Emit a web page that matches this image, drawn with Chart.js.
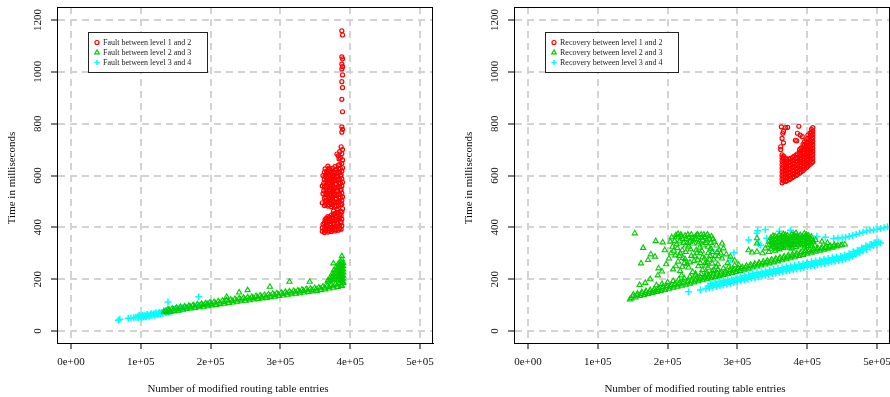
<!DOCTYPE html>
<html>
<head>
<meta charset="utf-8">
<script src="https://cdn.jsdelivr.net/npm/chart.js@4.4.0/dist/chart.umd.min.js"></script>
<style>
  html, body { margin: 0; padding: 0; background: #fff; }
  #wrap { position: relative; width: 890px; height: 397px; overflow: hidden; }
  .panel { position: absolute; top: 0; width: 457px; height: 397px; }
</style>
</head>
<body>
<div id="wrap">
  <div class="panel" style="left:0"><canvas id="fault" width="457" height="397"></canvas></div>
  <div class="panel" style="left:457px"><canvas id="recovery" width="457" height="397"></canvas></div>
</div>
<script>
// x values are in thousands of modified entries, y in milliseconds
const xTickValues = [0, 100, 200, 300, 400, 500];
const xTickLabels = ['0e+00', '1e+05', '2e+05', '3e+05', '4e+05', '5e+05'];
const yTickValues = [0, 200, 400, 600, 800, 1000, 1200];
const yTickLabels = ['0', '200', '400', '600', '800', '1000', '1200'];
const xTitle = 'Number of modified routing table entries';
const yTitle = 'Time in milliseconds';
const faultLabels = ['Fault between level 1 and 2', 'Fault between level 2 and 3', 'Fault between level 3 and 4'];
const recoveryLabels = ['Recovery between level 1 and 2', 'Recovery between level 2 and 3', 'Recovery between level 3 and 4'];

// ---- left panel: faults ----
const faultL12 = [
  [363,380],[363,392],[364,405],[363,418],[364,430],
  [368,382],[368,394],[367,407],[368,420],[369,433],[368,442],
  [373,384],[373,396],[372,409],[373,422],[374,435],[373,447],
  [378,386],[378,399],[377,412],[378,425],[379,438],[378,452],
  [383,389],[383,402],[382,415],[383,428],[384,441],[383,455],[382,466],
  [387,393],[388,406],[387,419],[388,432],[387,446],[388,460],[389,472],[376,463],
  [365,386],[365,398],[366,411],[365,424],[366,436],
  [370,388],[370,400],[371,413],[370,426],[370,439],
  [375,390],[375,402],[376,415],[375,428],[375,441],[376,452],
  [380,392],[380,405],[381,418],[380,431],[380,444],[381,458],
  [385,396],[385,409],[386,422],[385,435],[385,449],[386,462],
  [360,385],[360,398],[361,412],
  [363,484],[364,498],[363,513],[365,527],[362,541],[363,556],[362,570],[363,585],[364,598],[363,612],[364,626],
  [368,482],[368,496],[369,510],[368,525],[367,539],[368,553],[369,568],[368,582],[367,596],[368,610],[369,624],[368,636],
  [373,480],[373,494],[372,508],[373,522],[374,537],[373,551],[372,565],[373,579],[374,593],[373,607],[372,620],
  [378,481],[378,495],[379,509],[378,523],[377,538],[378,552],[379,566],[378,580],[377,594],[378,608],[379,622],[378,634],
  [383,485],[383,499],[384,513],[383,527],[382,541],[383,555],[384,569],[383,583],[382,597],[383,611],[384,625],[383,640],
  [388,490],[388,504],[389,518],[388,532],[387,546],[388,560],[389,574],[388,588],[387,602],[388,616],[389,630],[388,646],[389,660],
  [365,489],[366,503],[365,518],[366,532],[365,546],[366,561],[365,575],[366,590],[365,603],[366,617],
  [370,487],[371,501],[370,515],[371,530],[370,544],[371,558],[370,573],[371,587],[370,601],[371,615],[370,629],
  [375,487],[376,501],[375,515],[376,529],[375,544],[376,558],[375,572],[376,586],[375,600],[376,614],[375,628],
  [380,483],[381,497],[380,511],[381,525],[380,540],[381,554],[380,568],[381,582],[380,596],[381,610],[380,624],
  [386,487],[385,501],[386,515],[385,529],[386,543],[385,557],[386,571],[385,585],[386,599],[385,613],[386,627],[385,642],
  [360,495],[361,530],[360,560],[361,600],
  [386,668],[383,676],[388,684],[385,692],[389,700],[387,711],[381,683],[384,664],
  [388,767],[389,778],[388,788],[389,846],[388,894],[389,939],[388,962],[389,988],
  [388,1011],[389,1020],[388,1030],[389,1050],[388,1058],[389,1142],[388,1158]
];
const faultL23 = [
  [133,74],[136,78],[138,72],
  [142,74],[148,77],[154,79],[160,82],[166,85],[172,87],[178,89],[184,92],[190,94],[196,96],
  [202,99],[208,101],[214,104],[220,106],[226,108],[232,110],[238,113],[244,115],[250,117],
  [256,119],[262,122],[268,124],[274,126],[280,128],[286,131],[292,133],[298,135],[304,137],
  [310,140],[316,142],[322,144],[328,146],[334,149],[340,151],[346,153],[352,155],[358,158],
  [364,161],[370,164],[376,167],[382,170],[388,174],
  [139,84],[145,87],[151,90],[157,93],[163,95],[169,98],[175,100],[181,103],[187,105],[193,107],
  [199,110],[205,112],[211,115],[217,117],[223,119],[229,121],[235,124],[241,126],[247,128],
  [253,130],[259,132],[265,135],[271,137],[277,139],[283,142],[289,144],[295,146],[301,148],
  [307,151],[313,153],[319,155],[325,157],[331,160],[337,162],[343,164],[349,166],[355,168],
  [361,172],[367,175],[373,178],[379,182],[385,185],[390,186],
  [141,80],[147,83],[153,85],[159,88],[165,90],[171,93],[177,95],[183,97],[189,100],[195,102],
  [201,104],[207,107],[213,109],[219,112],[225,114],[231,116],[237,118],[243,121],[249,123],
  [255,125],[261,127],[267,130],[273,132],[279,134],[285,136],[291,139],[297,141],[303,143],
  [309,146],[315,148],[321,150],[327,152],[333,155],[339,157],[345,159],[351,161],[357,164],
  [363,167],[369,170],[375,173],[381,176],[387,179],
  [368,190],[368,195],[371,195],[371,205],[374,196],[374,208],[374,220],
  [377,200],[377,212],[377,224],[377,236],[380,198],[380,210],[380,222],[380,234],[380,246],
  [383,200],[383,212],[383,224],[383,236],[383,248],[383,260],
  [386,196],[386,208],[386,220],[386,232],[386,244],[386,256],[386,268],
  [388,192],[388,204],[388,216],[388,228],[388,240],[388,252],[388,264],[388,276],[388,289],
  [390,190],[390,202],[390,214],[390,226],[390,238],[390,250],[390,262],
  [223,132],[241,149],[253,158],[285,171],[313,190],[342,190],[376,261]
];
const faultL34 = [
  [68,42],[70,46],[82,49],[86,50],[90,51],[93,53],[96,52],[96,57],[99,55],[102,58],[104,54],
  [106,60],[108,57],[110,62],[112,58],[114,64],[116,61],[118,66],[120,62],[122,68],[124,65],
  [126,70],[128,67],[130,72],[132,69],[134,75],[136,71],[138,77],[140,74],[142,80],[145,78],
  [148,83],[151,81],[154,86],[157,84],[160,89],[164,88],[168,92],[172,93],[176,96],[180,98],
  [184,100],[188,102],[192,104],[196,106],[200,108],
  [98,60],[101,52],[103,61],[107,55],[109,64],[113,60],[115,67],[119,63],[121,71],[125,66],
  [127,73],[131,70],[133,78],[137,74],[141,82],[143,76],[147,80],[150,87],[153,83],[156,90],
  [159,86],[162,92],
  [139,112],[183,132]
];

// ---- right panel: recoveries ----
const recoveryL12 = [
  [364,572],[364,586],[364,600],[364,614],[364,628],[364,642],[364,656],[364,669],[364,680],
  [369,577],[369,591],[369,604],[369,617],[369,630],[369,643],[369,656],[369,668],
  [374,584],[374,597],[374,611],[374,624],[374,637],[374,650],[374,663],
  [379,592],[379,605],[379,618],[379,631],[379,644],[379,657],[379,669],
  [384,600],[384,613],[384,626],[384,639],[384,652],[384,665],[384,679],
  [389,609],[389,622],[389,636],[389,649],[389,662],[389,675],[389,688],[389,700],
  [394,619],[394,632],[394,646],[394,659],[394,672],[394,685],[394,698],[394,710],[394,720],
  [399,631],[399,644],[399,658],[399,671],[399,684],[399,697],[399,710],[399,723],[399,738],
  [404,643],[404,656],[404,670],[404,683],[404,696],[404,709],[404,722],[404,736],[404,750],[404,764],
  [408,653],[408,666],[408,680],[408,693],[408,706],[408,719],[408,732],[408,745],[408,758],[408,771],[408,785],
  [366,579],[366,593],[366,607],[366,621],[366,635],[366,649],[366,663],[366,675],
  [371,581],[371,597],[371,610],[371,623],[371,636],[371,649],[371,662],
  [376,588],[376,601],[376,614],[376,627],[376,640],[376,653],[376,666],
  [381,596],[381,609],[381,622],[381,635],[381,648],[381,661],[381,674],
  [386,604],[386,617],[386,630],[386,643],[386,656],[386,669],[386,684],
  [391,614],[391,628],[391,641],[391,654],[391,668],[391,681],[391,694],[391,706],
  [396,625],[396,638],[396,652],[396,665],[396,678],[396,691],[396,704],[396,716],[396,730],
  [401,637],[401,650],[401,664],[401,677],[401,690],[401,703],[401,716],[401,729],[401,744],[401,756],
  [406,648],[406,661],[406,675],[406,688],[406,701],[406,714],[406,727],[406,740],[406,754],[406,767],[406,778],
  [363,788],[369,785],[372,786],[365,763],[364,743],[366,726],[362,711],[388,790],
  [386,763],[390,756],[385,734],[393,750],[383,736],[366,770],[362,700]
];
const recoveryL23 = [
  [146,122],[148,126],[154,130],[160,135],[166,139],[172,143],[178,147],[184,151],[190,155],[196,159],
  [202,163],[208,167],[214,171],[220,175],[226,179],[232,183],[238,188],[244,192],[250,196],
  [256,200],[262,204],[268,208],[274,212],[280,216],[286,220],[292,224],[298,228],[304,232],
  [310,237],[316,241],[322,245],[328,249],[334,253],[340,257],[346,261],[352,265],[358,269],
  [364,273],[370,277],[376,281],[382,285],[388,290],[394,294],[400,298],[406,302],[412,306],
  [418,310],[424,314],[430,318],[436,322],[442,326],[448,330],[454,334],
  [151,141],[157,145],[163,150],[169,154],[175,158],[181,162],[187,166],[193,170],[199,174],
  [205,178],[211,182],[217,186],[223,190],[229,194],[235,199],[241,203],[247,207],[253,211],
  [259,215],[265,219],[271,223],[277,227],[283,231],[289,235],[295,239],[301,243],[307,247],
  [313,252],[319,256],[325,260],[331,264],[337,268],[343,272],[349,276],[355,280],[361,284],
  [367,288],[373,292],[379,296],[385,300],[391,305],[397,309],[403,313],[409,317],[415,321],
  [421,323],[427,326],[433,329],[439,332],
  [150,135],[156,139],[162,143],[168,147],[174,151],[180,155],[186,159],[192,163],[198,167],
  [204,171],[210,176],[216,180],[222,184],[228,188],[234,192],[240,196],[246,200],[252,204],
  [258,208],[264,212],[270,216],[276,220],[282,224],[288,229],[294,233],[300,237],[306,241],
  [312,245],[318,249],[324,253],[330,257],[336,261],[342,265],[348,269],[354,273],[360,278],
  [366,282],[372,286],[378,290],[384,294],[390,298],[396,302],[402,306],[408,310],[414,314],
  [420,318],[426,321],[432,324],[438,327],[444,330],[450,333],
  [184,177],[192,182],[200,188],[208,193],[216,199],[224,204],[232,210],[240,215],[248,220],
  [256,226],[264,231],[272,237],[280,242],[288,248],[296,253],
  [153,377],[165,321],[172,274],[176,296],[183,347],[187,242],[193,342],[196,312],[162,261],
  [182,287],[168,186],[160,178],[175,200],[186,215],[192,230],[198,258],[202,280],[205,300],
  [207,325],[210,348],[212,370],[216,362],[219,372],[222,355],[225,368],[228,340],[231,362],
  [234,372],[237,350],[240,365],[243,372],[246,345],[249,360],[252,372],[256,350],[259,366],
  [262,340],[265,355],[214,320],[218,300],[222,282],[226,305],[230,325],[234,290],[238,270],
  [242,300],[246,322],[250,285],[254,262],[258,300],[262,318],[266,276],[270,330],[274,312],
  [278,338],[280,319],[278,280],[284,296],[290,287],[302,255],[296,272],[212,250],[218,232],
  [224,262],[230,245],[236,228],[244,250],[250,236],[258,244],[266,235],[272,258],[286,262],
  [208,238],[220,215],[240,222],[256,218],[270,248],
  [204,345],[206,362],[209,310],[211,292],[213,335],[215,375],[217,346],[220,365],[221,312],
  [223,340],[226,330],[227,355],[229,372],[232,345],[233,315],[235,360],[236,338],[239,355],
  [241,312],[242,370],[244,338],[245,362],[247,300],[248,372],[250,350],[251,330],[253,362],
  [255,340],[257,372],[258,325],[260,356],[261,290],[263,365],[264,305],[267,345],[215,268],
  [217,290],[221,248],[225,278],[228,258],[232,265],[239,288],[243,275],[247,262],[249,310],
  [253,280],[255,252],[257,265],[260,275],[264,260],[268,290],[271,305],[273,288],[276,300],
  [316,312],[321,303],[328,306],[340,319],[328,358],[328,338],[412,351],[421,345],[429,340],
  [336,300],[345,330],
  [348,318],[348,332],[348,346],[348,360],
  [354,310],[354,324],[354,338],[354,352],[354,366],
  [360,315],[360,329],[360,343],[360,357],[360,371],
  [366,320],[366,334],[366,348],[366,362],[366,374],
  [372,326],[372,340],[372,354],[372,368],
  [378,318],[378,332],[378,346],[378,360],[378,373],
  [384,324],[384,338],[384,352],[384,366],[384,378],
  [390,330],[390,344],[390,358],[390,370],
  [396,322],[396,336],[396,350],[396,364],[396,376],
  [402,328],[402,342],[402,356],[402,368],
  [406,335],[406,350],[406,364],
  [351,339],[357,345],[363,338],[369,330],[375,361],[381,345],[387,331],[393,351],[399,343],
  [357,362],[375,335],[387,362],
  [345,305],[351,325],[351,353],[357,318],[357,330],[363,324],[363,352],[363,366],[369,343],
  [369,357],[369,370],[375,322],[375,348],[381,331],[381,359],[381,372],[387,345],[393,337],
  [393,365],[399,329],[399,357],[399,371],[405,341],[405,357],[351,367],[345,345],[409,345],[411,330]
];
const recoveryL34 = [
  [230,152],[247,158],
  [255,163],[260,166],[265,169],[270,172],[275,175],[280,178],[285,181],[290,184],[295,187],
  [300,190],[305,194],[310,197],[315,200],[320,204],[325,207],[330,210],[335,212],[340,215],
  [345,218],[350,221],[355,223],[360,226],[365,229],[370,232],[375,234],[380,237],[385,240],
  [390,242],[395,245],[400,248],[405,251],[410,253],[415,256],[420,259],[425,261],[430,264],
  [435,267],[440,269],[445,272],[450,274],[455,278],[460,283],[465,289],[470,295],[475,302],
  [480,309],[485,316],[490,323],[495,330],[500,335],[505,340],
  [258,173],[264,177],[270,180],[276,184],[282,187],[288,191],[294,194],[300,198],[306,203],
  [312,206],[318,211],[324,214],[330,218],[336,221],[342,224],[348,228],[354,231],[360,234],
  [366,238],[372,241],[378,244],[384,247],[390,250],[396,254],[402,257],[408,260],[414,263],
  [420,267],[426,270],[432,273],[438,276],[444,279],[450,282],[456,287],[462,293],[468,301],
  [474,309],[480,317],[486,325],[492,334],[498,341],
  [262,183],[268,187],[274,191],[280,194],[286,198],[292,201],[298,205],[304,209],[310,213],
  [316,216],[322,221],[328,225],[334,228],[340,231],[346,235],[352,238],[358,241],[364,244],
  [370,248],[376,251],[382,254],[388,257],[394,260],[400,264],[406,267],[412,270],[418,273],
  [424,277],[430,280],[436,283],[442,286],[448,289],[454,293],[460,298],[466,306],[472,312],
  [478,320],[484,328],[490,333],[496,340],[502,344],
  [386,370],[400,368],[414,366],[426,362],[438,357],[444,359],[450,360],[455,362],[460,365],
  [465,369],[470,373],[475,377],[480,381],[485,386],[490,389],[495,391],[500,393],[505,396],
  [510,399],[515,402],
  [263,312],[290,274],[295,302],[316,351],[328,377],[329,387],[330,338],[333,332],[340,392],
  [342,358],[376,389],[360,385]
];

const seriesColors = ['#ff0000', '#00cd00', '#00ffff'];
const seriesShapes = ['circle', 'triangle', 'cross'];
const seriesRadius = [2, 3, 3.5];
const seriesLine = [1.2, 1.1, 1.5];
const textFont = '"Liberation Serif", "Times New Roman", serif';

const decor = {
  id: 'decor',
  afterDatasetsDraw(chart) {
    const { ctx, chartArea: a, scales: { y } } = chart;
    ctx.save();
    // frame
    ctx.strokeStyle = '#000';
    ctx.lineWidth = 1;
    ctx.strokeRect(Math.round(a.left) + 0.5, Math.round(a.top) + 0.5,
                   Math.round(a.right - a.left) - 1, Math.round(a.bottom - a.top));
    // y tick labels, rotated as in R
    ctx.fillStyle = '#111';
    ctx.font = '11px ' + textFont;
    ctx.textAlign = 'center';
    ctx.textBaseline = 'middle';
    y.ticks.forEach((t, i) => {
      ctx.save();
      ctx.translate(38, y.getPixelForValue(t.value));
      ctx.rotate(-Math.PI / 2);
      ctx.fillText(yTickLabels[i], 0, 0);
      ctx.restore();
    });
    // axis titles
    ctx.fillText(xTitle, (a.left + a.right) / 2 - 7, 389);
    ctx.save();
    ctx.translate(12, (a.top + a.bottom) / 2 + 3);
    ctx.rotate(-Math.PI / 2);
    ctx.fillText(yTitle, 0, 0);
    ctx.restore();
    // legend box
    ctx.font = '8px ' + textFont;
    const ds = chart.data.datasets;
    const tw = Math.max(...ds.map(d => ctx.measureText(d.label).width));
    const bx = 88.5, by = 32.5, bw = Math.round(tw + 31), bh = 40;
    ctx.fillStyle = '#fff';
    ctx.fillRect(bx, by, bw, bh);
    ctx.strokeStyle = '#222';
    ctx.strokeRect(bx, by, bw, bh);
    ds.forEach((d, i) => {
      const cy = 42.5 + i * 10;
      ctx.strokeStyle = d.borderColor;
      ctx.fillStyle = 'rgba(0,0,0,0)';
      ctx.lineWidth = i === 2 ? 1.5 : 1.2;
      Chart.helpers.drawPoint(ctx, { pointStyle: d.pointStyle, radius: i === 0 ? 2 : 2.6, rotation: 0, borderWidth: 1 }, 97, cy);
      ctx.fillStyle = '#222';
      ctx.textAlign = 'left';
      ctx.fillText(d.label, 103, cy);
    });
    ctx.restore();
  }
};

function axisGrid() {
  return { color: '#d3d3d3', lineWidth: 2, tickColor: '#000', tickLength: 6, tickWidth: 1 };
}

function makeChart(id, seriesList, labels) {
  return new Chart(document.getElementById(id), {
    type: 'scatter',
    data: {
      datasets: seriesList.map((pts, i) => ({
        label: labels[i],
        data: pts.map(p => ({ x: p[0], y: p[1] })),
        pointStyle: seriesShapes[i],
        pointRadius: seriesRadius[i],
        pointHoverRadius: seriesRadius[i],
        borderColor: seriesColors[i],
        backgroundColor: 'rgba(0,0,0,0)',
        borderWidth: seriesLine[i]
      }))
    },
    options: {
      responsive: false,
      animation: false,
      events: [],
      layout: { padding: { top: 7, right: 24, left: 0, bottom: 0 } },
      plugins: { legend: { display: false }, tooltip: { enabled: false } },
      scales: {
        x: {
          type: 'linear', min: -20, max: 518.6,
          afterBuildTicks: s => { s.ticks = xTickValues.map(v => ({ value: v })); },
          afterFit: s => { s.height = 54; },
          ticks: {
            callback: (v, i) => xTickLabels[i],
            font: { family: textFont, size: 11 }, color: '#111',
            padding: 7, maxRotation: 0, autoSkip: false
          },
          grid: axisGrid(),
          border: { display: true, color: '#000', width: 1, dash: [7, 5] }
        },
        y: {
          type: 'linear', min: -46, max: 1250,
          afterBuildTicks: s => { s.ticks = yTickValues.map(v => ({ value: v })); },
          afterFit: s => { s.width = 57; },
          ticks: { display: false },
          grid: axisGrid(),
          border: { display: true, color: '#000', width: 1, dash: [7, 5] }
        }
      }
    },
    plugins: [decor]
  });
}

makeChart('fault', [faultL12, faultL23, faultL34], faultLabels);
makeChart('recovery', [recoveryL12, recoveryL23, recoveryL34], recoveryLabels);
</script>
</body>
</html>
